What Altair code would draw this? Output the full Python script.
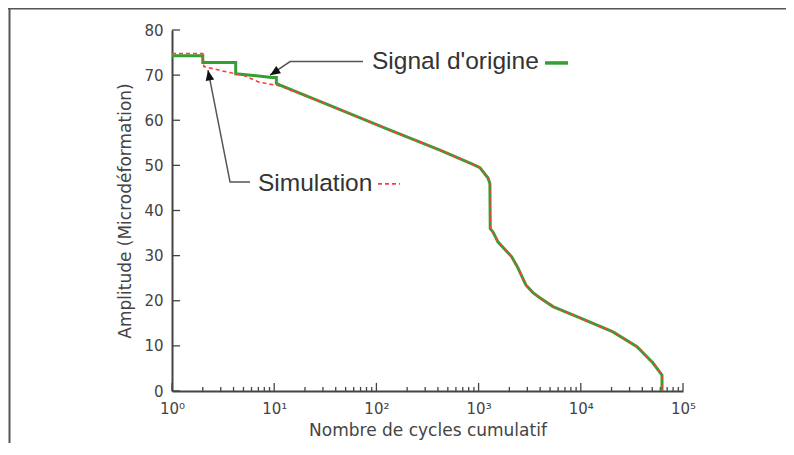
import altair as alt
import pandas as pd

# ---- data ----
sig_n = [1, 2, 2, 4.2, 4.2, 9.5, 10.5, 10.5, 11.4, 30, 136, 419, 881, 1030, 1236,
         1290, 1300, 1384, 1550, 2100, 2400, 2900, 3400, 4000, 5346, 9816, 20650,
         35470, 50850, 62330, 62330]
sig_a = [74.3, 74.3, 72.8, 72.8, 70.3, 69.5, 69.5, 68.2, 67.8, 63.9, 57.8, 53.4, 50.2, 49.5, 47.2,
         46.0, 36.0, 35.2, 33.0, 29.8, 27.5, 23.5, 21.8, 20.6, 18.7, 16.2, 13.1,
         9.8, 6.2, 3.5, 0]

sim_n = [1, 2, 2.05, 3.45, 4.95, 7, 8.5, 11.4, 30, 136, 419, 881, 1030, 1236,
         1290, 1300, 1384, 1550, 2100, 2400, 2900, 3400, 4000, 5346, 9816, 20650,
         35470, 50850, 62330, 62330]
sim_a = [74.8, 74.8, 71.9, 70.7, 70.0, 68.5, 68.1, 67.6, 63.9, 57.8, 53.4, 50.2, 49.5, 47.2,
         46.0, 36.0, 35.2, 33.0, 29.8, 27.5, 23.5, 21.8, 20.6, 18.7, 16.2, 13.1,
         9.8, 6.2, 3.5, 0]

x_major = [1, 10, 100, 1000, 10000, 100000]
x_minor = [m * 10 ** k for k in range(5) for m in range(2, 10)]
y_ticks = [0, 10, 20, 30, 40, 50, 60, 70, 80]

label_text = ["Signal d'origine", "Simulation"]
label_n = [90.6, 6.94]
label_a = [72.9, 45.9]

sig_sample_n = [4466, 7500]
sig_sample_a = [72.7, 72.7]
sim_sample_n = [103.7, 170]
sim_sample_a = [45.9, 45.9]

sig_arrow_n = [73.9, 14.3, 9.1]
sig_arrow_a = [73.0, 73.0, 70.0]
sim_arrow_n = [5.8, 3.70, 2.25]
sim_arrow_a = [46.3, 46.3, 71.1]

# ---- styling ----
AX = "#444444"
FONT = "DejaVu Sans"
GREEN = "#34a034"
RED = "#ff3b3b"

xscale = alt.Scale(type="log", domain=[1, 100000], nice=False)
yscale = alt.Scale(domain=[0, 80], nice=False, zero=True)

xaxis = alt.Axis(values=x_major, ticks=False, grid=False, domainColor=AX, domainWidth=2,
                 labelExpr="'10' + ['\u2070','\u00b9','\u00b2','\u00b3','\u2074','\u2075'][round(log(datum.value)/LN10)]",
                 labelFlush=False, labelFont=FONT, labelFontSize=15, labelColor=AX, labelPadding=10,
                 title="Nombre de cycles cumulatif", titleFont=FONT, titleFontSize=17,
                 titleFontWeight="normal", titleColor=AX, titlePadding=6)
yaxis = alt.Axis(values=y_ticks, ticks=False, grid=False, domainColor=AX, domainWidth=2,
                 labelFlush=False, labelFont=FONT, labelFontSize=15, labelColor=AX, labelPadding=9,
                 title="Amplitude (Microdéformation)", titleFont=FONT, titleFontSize=17,
                 titleFontWeight="normal", titleColor=AX, titlePadding=9)


def X(f="n"):
    return alt.X(f + ":Q", scale=xscale, axis=xaxis)


def Y(f="a"):
    return alt.Y(f + ":Q", scale=yscale, axis=yaxis)


def line_df(ns, as_):
    return pd.DataFrame({"n": ns, "a": as_, "i": list(range(len(ns)))})


sig = alt.Chart(line_df(sig_n, sig_a)).mark_line(color=GREEN, strokeWidth=3).encode(
    x=X(), y=Y(), order="i:Q")
sim = alt.Chart(line_df(sim_n, sim_a)).mark_line(color=RED, strokeWidth=1.6, strokeDash=[4, 3]).encode(
    x=X(), y=Y(), order="i:Q")

sig_sample = alt.Chart(line_df(sig_sample_n, sig_sample_a)).mark_line(color=GREEN, strokeWidth=3.5).encode(
    x=X(), y=Y(), order="i:Q")
sim_sample = alt.Chart(line_df(sim_sample_n, sim_sample_a)).mark_line(color=RED, strokeWidth=1.6, strokeDash=[4, 3]).encode(
    x=X(), y=Y(), order="i:Q")

sig_arrow = alt.Chart(line_df(sig_arrow_n, sig_arrow_a)).mark_line(color="#555555", strokeWidth=1.5).encode(
    x=X(), y=Y(), order="i:Q")
sim_arrow = alt.Chart(line_df(sim_arrow_n, sim_arrow_a)).mark_line(color="#555555", strokeWidth=1.5).encode(
    x=X(), y=Y(), order="i:Q")

heads = alt.Chart(pd.DataFrame({
    "n": [sig_arrow_n[-1], sim_arrow_n[-1]],
    "a": [sig_arrow_a[-1], sim_arrow_a[-1]],
    "ang": [237, 349],
})).mark_point(shape="M0,0L0.42,1L-0.42,1Z", filled=True, color="#111111", opacity=1, size=420).encode(
    x=X(), y=Y(), angle=alt.Angle("ang:Q", scale=None))

labels = alt.Chart(pd.DataFrame({"n": label_n, "a": label_a, "t": label_text})).mark_text(
    align="left", baseline="middle", font="Liberation Sans", fontSize=24.5, color="#333333").encode(
    x=X(), y=Y(), text="t:N")

# inward tick marks
xt = pd.DataFrame({"n": x_major + x_minor,
                   "a": [0] * (len(x_major) + len(x_minor)),
                   "a2": [1.8] * len(x_major) + [0.9] * len(x_minor)})
xticks = alt.Chart(xt).mark_rule(color=AX, strokeWidth=1.3).encode(x=X(), y=Y(), y2="a2:Q")
yt = pd.DataFrame({"a": y_ticks, "n": [1] * len(y_ticks), "n2": [1.2] * len(y_ticks)})
yticks = alt.Chart(yt).mark_rule(color=AX, strokeWidth=1.3).encode(x=X(), x2="n2:Q", y=Y())

# figure frame (top and left edges)
one = pd.DataFrame({"k": [0]})
frame_top = alt.Chart(one).mark_rule(color="#555555", strokeWidth=2).encode(
    x=alt.value(-164), x2=alt.value(620), y=alt.value(-21.5))
frame_left = alt.Chart(one).mark_rule(color="#555555", strokeWidth=2).encode(
    x=alt.value(-162.5), y=alt.value(-22), y2=alt.value(420))

chart = alt.layer(
    frame_top, frame_left, xticks, yticks, sig, sim, sig_sample, sim_sample,
    sig_arrow, sim_arrow, heads, labels
).properties(
    width=511, height=361,
    autosize=alt.AutoSizeParams(type="none"),
    padding={"left": 164, "top": 22, "right": 103, "bottom": 52},
    background="white",
).configure_view(stroke=None)

chart.save("out.html", embed_options={"renderer": "svg", "actions": False})
